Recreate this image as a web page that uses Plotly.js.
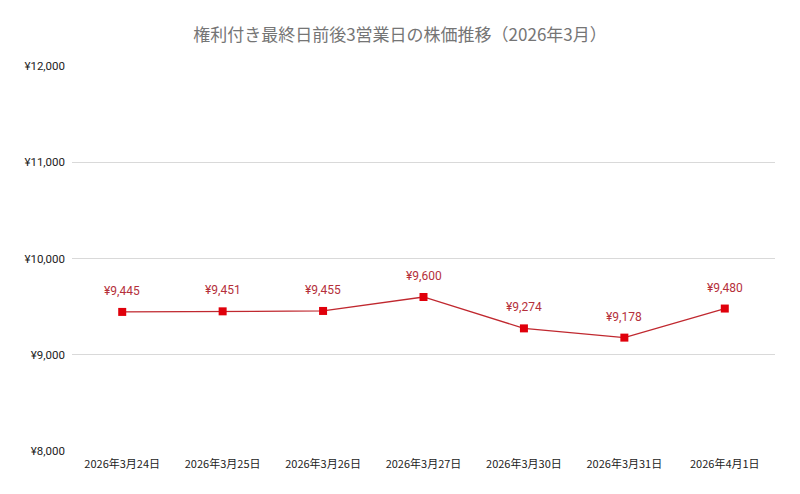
<!DOCTYPE html>
<html>
<head>
<meta charset="utf-8">
<script src="https://cdn.plot.ly/plotly-3.0.1.min.js"></script>
<style>
  html, body { margin: 0; padding: 0; background: #fff; }
  #chart { width: 800px; height: 494px; }
</style>
</head>
<body>
<div id="chart"></div>
<script>
const dates = ['2026年3月24日', '2026年3月25日', '2026年3月26日', '2026年3月27日',
  '2026年3月30日', '2026年3月31日', '2026年4月1日'];
const prices = [9445, 9451, 9455, 9600, 9274, 9178, 9480];
const yTicks = [8000, 9000, 10000, 11000, 12000];

const fmt = v => '¥' + v.toLocaleString('en-US');

const trace = {
  x: dates,
  y: prices,
  type: 'scatter',
  mode: 'lines+markers',
  line: { color: '#c0282f', width: 1.3 },
  marker: { symbol: 'square', size: 8, color: '#e0000b' },
  hoverinfo: 'skip'
};

const annotations = dates.map((d, i) => ({
  x: d,
  y: prices[i],
  text: fmt(prices[i]),
  showarrow: false,
  yshift: 21,
  font: { family: 'Roboto, Arial, sans-serif', size: 12, color: '#b5303a' }
}));

const layout = {
  width: 800,
  height: 494,
  margin: { l: 72, r: 25, t: 66, b: 43 },
  paper_bgcolor: '#fff',
  plot_bgcolor: '#fff',
  showlegend: false,
  title: {
    text: '権利付き最終日前後3営業日の株価推移（2026年3月）',
    x: 0.5,
    xanchor: 'center',
    y: 0.93,
    yanchor: 'middle',
    font: { family: 'Noto Sans CJK JP, sans-serif', size: 17, color: '#757575' }
  },
  xaxis: {
    type: 'category',
    range: [-0.5, 6.5],
    showgrid: false,
    showline: false,
    zeroline: false,
    ticks: '',
    ticklabelstandoff: 5,
    tickfont: { family: 'Noto Sans CJK JP, Roboto, sans-serif', size: 11, color: '#222' }
  },
  yaxis: {
    range: [8000, 12000],
    tickvals: yTicks,
    ticktext: yTicks.map(fmt),
    showgrid: true,
    gridcolor: '#d9d9d9',
    gridwidth: 1,
    zeroline: false,
    showline: false,
    ticks: '',
    ticklabelstandoff: 6,
    tickfont: { family: 'Roboto, Arial, sans-serif', size: 11.5, color: '#222' }
  },
  annotations: annotations
};

Plotly.newPlot('chart', [trace], layout, { displayModeBar: false, staticPlot: true });
</script>
</body>
</html>
